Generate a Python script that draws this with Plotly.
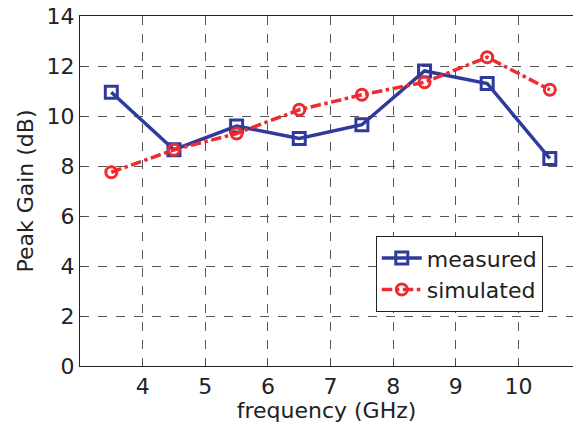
import plotly.graph_objects as go

freq = [3.5, 4.5, 5.5, 6.5, 7.5, 8.5, 9.5, 10.5]
measured = [10.95, 8.65, 9.6, 9.1, 9.65, 11.8, 11.3, 8.3]
simulated = [7.75, 8.65, 9.3, 10.25, 10.85, 11.35, 12.35, 11.05]
x_ticks = [4, 5, 6, 7, 8, 9, 10]
y_ticks = [0, 2, 4, 6, 8, 10, 12, 14]

blue = "#2F3B9C"
red = "#EE2B2F"

fig = go.Figure()
fig.add_trace(go.Scatter(
    x=freq, y=measured, name="measured", mode="lines+markers",
    line=dict(color=blue, width=3.5),
    marker=dict(symbol="square-open", size=12, color=blue, line=dict(width=3, color=blue)),
))
fig.add_trace(go.Scatter(
    x=freq, y=simulated, name="simulated", mode="lines+markers",
    line=dict(color=red, width=3.5, dash="dashdot"),
    marker=dict(symbol="circle-open", size=11, color=red, line=dict(width=3, color=red)),
))

font = "DejaVu Sans, Liberation Sans, Arial, sans-serif"
fs = 22
fig.update_layout(
    width=573, height=432,
    margin=dict(l=80, r=0, t=16, b=66),
    paper_bgcolor="white", plot_bgcolor="white",
    font=dict(family=font, size=fs, color="#222222"),
    showlegend=True,
    legend=dict(
        x=0.6, y=0.371, xanchor="left", yanchor="top",
        bgcolor="white", bordercolor="#222222", borderwidth=1,
        font=dict(size=fs, color="#222222"),
        itemwidth=40,
    ),
)
fig.update_xaxes(
    range=[3, 10.87], tickvals=x_ticks, ticks="inside", ticklen=5,
    showline=True, linecolor="#222222", linewidth=1.2, mirror=True,
    showgrid=True, gridcolor="#555555", griddash="dash", gridwidth=1,
    zeroline=False, automargin=False, ticklabeloverflow="allow",
    title=dict(text="frequency (GHz)", font=dict(size=fs), standoff=4),
    tickfont=dict(size=fs),
)
fig.update_yaxes(
    range=[0, 14], tickvals=y_ticks, ticks="inside", ticklen=5,
    showline=True, linecolor="#222222", linewidth=1.2, mirror=False,
    showgrid=True, gridcolor="#555555", griddash="dash", gridwidth=1,
    zeroline=False, automargin=False, ticklabeloverflow="allow",
    title=dict(text="Peak Gain (dB)", font=dict(size=fs), standoff=6),
    tickfont=dict(size=fs),
)

fig.write_html("out.html", config={"displayModeBar": False},
               post_script="document.body.style.margin='0';")
